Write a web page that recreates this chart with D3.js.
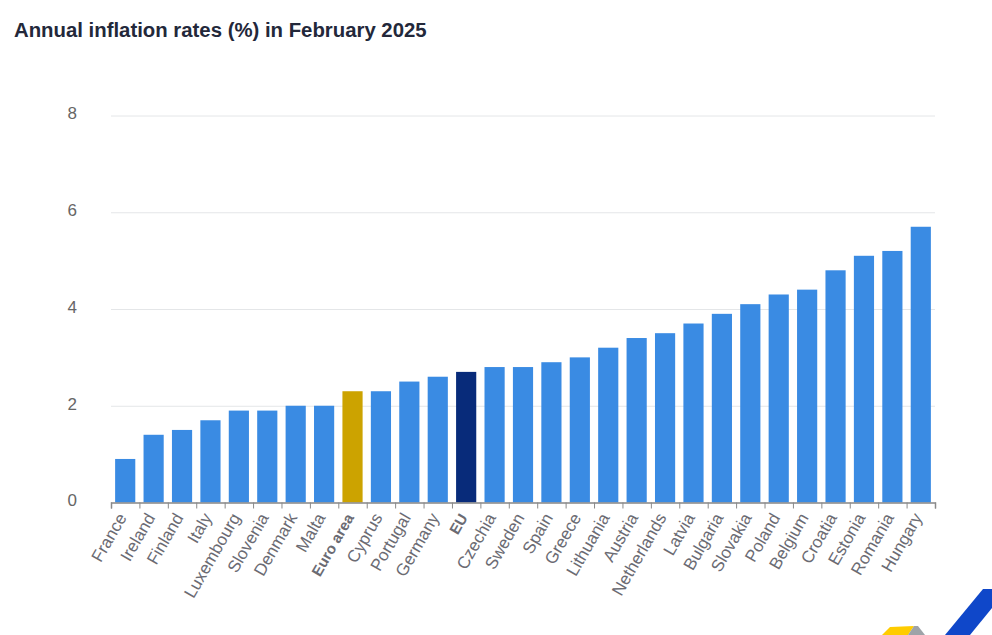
<!DOCTYPE html>
<html>
<head>
<meta charset="utf-8">
<script src="https://cdn.jsdelivr.net/npm/d3@7"></script>
<style>
  html, body { margin: 0; padding: 0; background: #fff; overflow: hidden; }
  svg { display: block; font-family: "Liberation Sans", Arial, sans-serif; }
  .title { font-size: 20.35px; font-weight: bold; fill: #23283a; }
  .yAxis text { font-size: 17px; fill: #666; }
  .xAxis text { font-size: 17px; fill: #6b6b73; }
</style>
</head>
<body>
<script>
let width = 992, height = 635;
let margin = { top: 115.5, bottom: 132.5, left: 111, right: 57 };

let countries = ["France", "Ireland", "Finland", "Italy", "Luxembourg", "Slovenia", "Denmark", "Malta",
    "Euro area", "Cyprus", "Portugal", "Germany", "EU", "Czechia", "Sweden", "Spain", "Greece", "Lithuania",
    "Austria", "Netherlands", "Latvia", "Bulgaria", "Slovakia", "Poland", "Belgium", "Croatia", "Estonia",
    "Romania", "Hungary"];
let rates = [0.9, 1.4, 1.5, 1.7, 1.9, 1.9, 2.0, 2.0, 2.3, 2.3, 2.5, 2.6, 2.7, 2.8, 2.8, 2.9, 3.0, 3.2,
    3.4, 3.5, 3.7, 3.9, 4.1, 4.3, 4.4, 4.8, 5.1, 5.2, 5.7];
let yTicks = [0, 2, 4, 6, 8];
let highlights = { "Euro area": "#cca300", "EU": "#082b7a" };
let barColor = "#3a8be3";

let innerW = width - margin.left - margin.right;
let innerH = height - margin.top - margin.bottom;

let xScale = d3.scaleBand().domain(countries).range([0, innerW]).paddingInner(0.29).paddingOuter(0.145);
let tickScale = d3.scaleLinear().domain([0, countries.length]).range([0, innerW]);
let yScale = d3.scaleLinear().domain([0, 8]).range([innerH, 0]);

let svg = d3.select("body").append("svg")
    .attr("width", width)
    .attr("height", height);

svg.append("text")
    .attr("class", "title")
    .attr("x", 14)
    .attr("y", 37)
    .text("Annual inflation rates (%) in February 2025");

let g = svg.append("g")
    .attr("transform", "translate(" + margin.left + "," + margin.top + ")");

// gridlines and y labels
let yAxis = g.append("g")
    .attr("class", "yAxis")
    .call(d3.axisLeft(yScale).tickValues(yTicks).tickSize(-innerW).tickPadding(34).tickFormat(d3.format("d")));
yAxis.select(".domain").remove();
yAxis.selectAll("line").attr("stroke", "#e4e6e8");
yAxis.selectAll("text").attr("dy", "0.2em");

// bars
g.selectAll(".bar")
    .data(countries)
    .enter()
    .append("rect")
    .attr("class", "bar")
    .attr("x", function(d) { return xScale(d); })
    .attr("y", function(d, i) { return yScale(rates[i]); })
    .attr("width", xScale.bandwidth())
    .attr("height", function(d, i) { return innerH - yScale(rates[i]); })
    .attr("fill", function(d) { return highlights[d] || barColor; });

// ticks sit between the categories
let tickAxis = g.append("g")
    .attr("transform", "translate(0," + innerH + ")")
    .call(d3.axisBottom(tickScale).tickValues(d3.range(countries.length + 1)).tickSize(6).tickFormat(""));
tickAxis.selectAll("line").attr("stroke", "#8a8a8a");
tickAxis.select(".domain").attr("stroke", "#8a8a8a").attr("stroke-width", 1.5);

// rotated country labels
let xAxis = g.append("g")
    .attr("class", "xAxis")
    .attr("transform", "translate(0," + innerH + ")")
    .call(d3.axisBottom(xScale).tickSize(0).tickPadding(0));
xAxis.select(".domain").remove();
xAxis.selectAll("text")
    .attr("y", 0)
    .attr("dy", 0)
    .attr("text-anchor", "end")
    .attr("transform", "translate(2,15) rotate(-60)")
    .style("font-weight", function(d) { return highlights[d] ? "bold" : "normal"; })
    .style("font-size", function(d) { return highlights[d] ? "15px" : null; });

// corner logo
svg.append("polygon").attr("points", "882,635 890,627 914,626 908,635").attr("fill", "#ffcc00");
svg.append("polygon").attr("points", "908,635 914,626 918,626 925,635").attr("fill", "#9ea3a8");
svg.append("polygon").attr("points", "945,635 983,589 992,589 992,608 970,635").attr("fill", "#0f47c9");
</script>
</body>
</html>
